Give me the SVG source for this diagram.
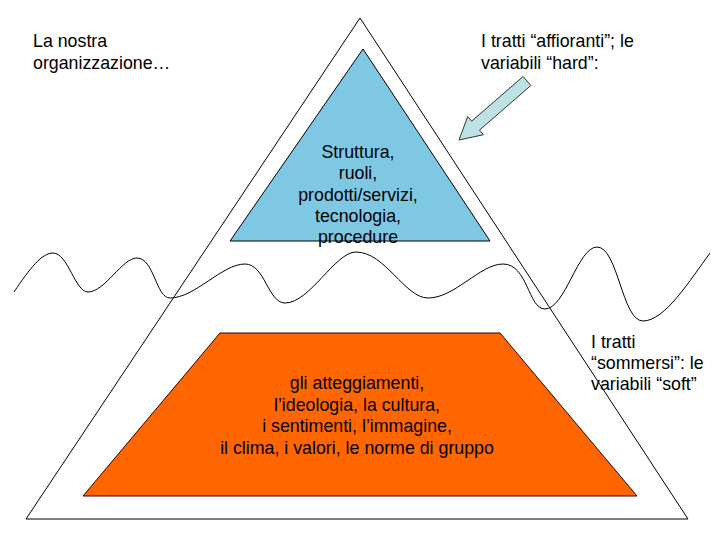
<svg xmlns="http://www.w3.org/2000/svg" width="720" height="540" viewBox="0 0 720 540">
<style>
text{font-family:"Liberation Sans",Arial,sans-serif;font-size:17.8px;fill:#000}
.c{text-anchor:middle}
.ln{fill:none;stroke:#000;stroke-width:1}
</style>
<rect width="720" height="540" fill="#fff"/>
<g id="iceberg">
<polygon class="ln" points="360,18 688,519 26,519"/>
</g>
<g id="hard">
<polygon points="363,49 490,241 230,241" fill="#7EC8E3" stroke="#000" stroke-width="1"/>
<text class="c" x="358" y="158">Struttura,</text>
<text class="c" x="358" y="179">ruoli,</text>
<text class="c" x="358" y="201">prodotti/servizi,</text>
<text class="c" x="358" y="222">tecnologia,</text>
<text class="c" x="358" y="243">procedure</text>
</g>
<g id="water">
<path class="ln" d="M14,292 C30,268 42,253 53,253 C68,253 75,292 88,292 C105,292 122,258 137,258 C154,258 156,298 170,298 C195,298 222,264 245,264 C265,264 268,303 285,303 C310,303 335,252 356,252 C385,252 405,298 428,298 C455,298 480,264 503,264 C528,264 528,309 545,309 C565,309 578,247 597,247 C618,247 622,321 643,321 C665,321 690,280 710,253"/>
</g>
<g id="soft">
<polygon points="220,333 500,333 637,496 83,496" fill="#FF6600" stroke="#330000" stroke-width="1"/>
<text class="c" x="357" y="389">gli atteggiamenti,</text>
<text class="c" x="357" y="411">l’ideologia, la cultura,</text>
<text class="c" x="357" y="432">i sentimenti, l’immagine,</text>
<text class="c" x="357" y="454">il clima, i valori, le norme di gruppo</text>
</g>
<g id="label-org">
<text x="33" y="47">La nostra</text>
<text x="33" y="69">organizzazione…</text>
</g>
<g id="label-hard">
<text x="481" y="47">I tratti “affioranti”; le</text>
<text x="481" y="69">variabili “hard”:</text>
</g>
<g id="label-soft">
<text x="591" y="348">I tratti</text>
<text x="591" y="369">“sommersi”: le</text>
<text x="591" y="390">variabili “soft”</text>
</g>
<g id="connectors">
<polygon points="459,140 467.7,116.5 471.7,121.1 523.1,76.5 530.9,85.5 479.5,130.1 483.5,134.7" fill="#BDE2E6" stroke="#333" stroke-width="1"/>
</g>
</svg>
